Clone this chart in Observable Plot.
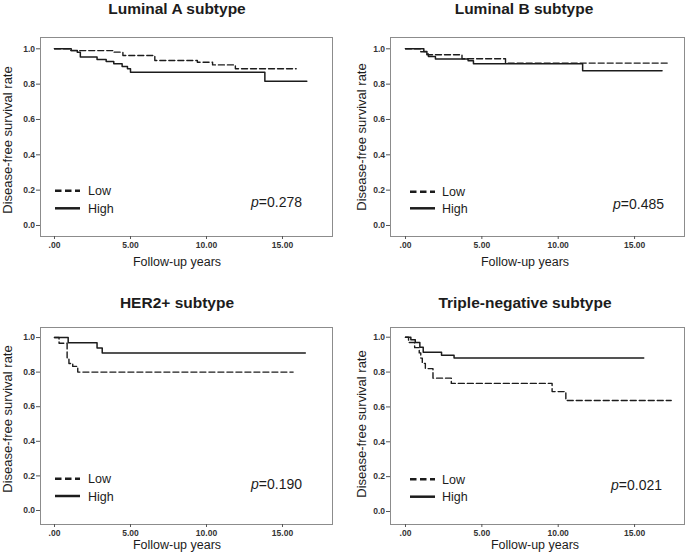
<!DOCTYPE html>
<html><head><meta charset="utf-8">
<script src="https://cdn.jsdelivr.net/npm/d3@7"></script>
<script src="https://cdn.jsdelivr.net/npm/@observablehq/plot@0.6"></script>
<style>
body{margin:0;background:#fff;}
#wrap{position:relative;width:685px;height:553px;overflow:hidden;font-family:"Liberation Sans",Arial,sans-serif;}
.panel{position:absolute;}
.panel svg{overflow:visible;}
</style></head><body><div id="wrap"></div>
<script>
// ---- data ----
const xTickValues = [0, 5, 10, 15];
const xTickLabels = [".00", "5.00", "10.00", "15.00"];
const yTickValues = [0, 0.2, 0.4, 0.6, 0.8, 1.0];
const yTickLabels = ["0.0", "0.2", "0.4", "0.6", "0.8", "1.0"];
const groups = ["Low", "High"];
const titles = ["Luminal A subtype", "Luminal B subtype", "HER2+ subtype", "Triple-negative subtype"];
const pValues = ["0.278", "0.485", "0.190", "0.021"];
const xAxisTitle = "Follow-up years";
const yAxisTitle = "Disease-free survival rate";

const lumA_low_t  = [0, 1.0, 3.9, 4.5, 6.6, 9.4, 10.4, 11.9, 15.9];
const lumA_low_s  = [1, 0.99, 0.981, 0.962, 0.934, 0.924, 0.909, 0.887, 0.887];
const lumA_high_t = [0, 1.1, 1.5, 1.7, 2.8, 3.4, 3.9, 4.45, 4.8, 5.0, 13.84, 16.6];
const lumA_high_s = [1, 0.99, 0.98, 0.953, 0.94, 0.928, 0.915, 0.90, 0.887, 0.868, 0.817, 0.817];

const lumB_low_t  = [0, 1.0, 1.4, 3.7, 6.55, 17.2];
const lumB_low_s  = [1, 0.983, 0.966, 0.944, 0.919, 0.919];
const lumB_high_t = [0, 1.2, 1.4, 1.5, 1.96, 4.1, 4.45, 11.6, 16.8];
const lumB_high_s = [1, 0.985, 0.971, 0.956, 0.943, 0.932, 0.915, 0.876, 0.876];

const her2_low_t  = [0, 0.3, 0.83, 0.95, 1.2, 1.53, 15.7];
const her2_low_s  = [1, 0.967, 0.883, 0.85, 0.833, 0.80, 0.80];
const her2_high_t = [0, 0.9, 2.8, 3.14, 16.5];
const her2_high_s = [1, 0.97, 0.94, 0.91, 0.91];

const tn_low_t  = [0, 0.2, 0.6, 0.9, 1.0, 1.1, 1.3, 1.8, 3.0, 9.6, 10.5, 17.4];
const tn_low_s  = [1, 0.97, 0.94, 0.91, 0.88, 0.85, 0.82, 0.765, 0.735, 0.688, 0.637, 0.637];
const tn_high_t = [0, 0.35, 0.64, 0.94, 1.16, 2.36, 3.18, 15.6];
const tn_high_s = [1, 0.985, 0.97, 0.943, 0.913, 0.897, 0.88, 0.88];

const series = [
  [[lumA_low_t, lumA_low_s], [lumA_high_t, lumA_high_s]],
  [[lumB_low_t, lumB_low_s], [lumB_high_t, lumB_high_s]],
  [[her2_low_t, her2_low_s], [her2_high_t, her2_high_s]],
  [[tn_low_t, tn_low_s], [tn_high_t, tn_high_s]]
];

// ---- layout ----
const layout = [
  {left:0, top:0, w:342, h:276, ml:40, mr:10, mt:37, mb:40, xd:[-0.921, 18.29], yd:[-0.0623, 1.064],
   title:[177,14], xl:[177,266], yl:[12,140], leg:[55,80,88,190.7,208.3], p:[302,206.5]},
  {left:342, top:0, w:343, h:276, ml:48, mr:1, mt:37, mb:40, xd:[-0.982, 18.27], yd:[-0.0623, 1.064],
   title:[182,14], xl:[183,266], yl:[24,137], leg:[68,93,100,191.7,208.3], p:[322,208.5]},
  {left:0, top:276, w:342, h:277, ml:40, mr:10, mt:51, mb:29, xd:[-0.921, 18.29], yd:[-0.081, 1.058],
   title:[177,32], xl:[177,273], yl:[12,143], leg:[55,80,88,202.7,220], p:[302,213]},
  {left:342, top:276, w:343, h:277, ml:48, mr:1, mt:51, mb:29, xd:[-0.982, 18.27], yd:[-0.0746, 1.0557],
   title:[183,32], xl:[193,273], yl:[24,148], leg:[68,93,100,203.3,220.7], p:[320,214]}
];

const FONT = '"Liberation Sans", Arial, sans-serif';
const INK = "#1c1c1c";
const wrap = document.getElementById("wrap");

layout.forEach((L, k) => {
  const rows = [];
  series[k].forEach(([ts, ss], g) => ts.forEach((t, i) => rows.push({t, s: ss[i], group: groups[g]})));
  const low = rows.filter(d => d.group === "Low");
  const high = rows.filter(d => d.group === "High");

  const svg = Plot.plot({
    width: L.w, height: L.h,
    marginLeft: L.ml, marginRight: L.mr, marginTop: L.mt, marginBottom: L.mb,
    x: {domain: L.xd},
    y: {domain: L.yd},
    style: {fontFamily: FONT, background: "transparent", color: "#222"},
    marks: [
      Plot.frame({stroke: "#8c8c8c", strokeWidth: 1}),
      Plot.axisY(yTickValues, {tickFormat: d => yTickLabels[yTickValues.indexOf(d)], tickSize: 4, tickPadding: 1.5, fontSize: 8.5, label: null, stroke: "#555"}),
      Plot.axisX(xTickValues, {tickFormat: d => xTickLabels[xTickValues.indexOf(d)], tickSize: 3, tickPadding: 2, fontSize: 8.5, label: null, stroke: "#555"}),
      Plot.line(low, {x: "t", y: "s", curve: "step-after", stroke: INK, strokeWidth: 1.4, strokeDasharray: "6,3"}),
      Plot.line(high, {x: "t", y: "s", curve: "step-after", stroke: INK, strokeWidth: 1.5})
    ]
  });

  const s = d3.select(svg);
  s.selectAll("g[aria-label='y-axis tick label'] text, g[aria-label='x-axis tick label'] text").attr("font-weight", "bold").attr("fill", "#333");
  const ann = s.append("g").attr("font-family", FONT).attr("fill", INK).attr("text-anchor", "start");
  ann.append("text").attr("x", L.title[0]).attr("y", L.title[1]).attr("text-anchor", "middle")
     .attr("font-size", 15.5).attr("font-weight", "bold").text(titles[k]);
  ann.append("text").attr("x", L.xl[0]).attr("y", L.xl[1]).attr("text-anchor", "middle")
     .attr("font-size", 12.5).text(xAxisTitle);
  ann.append("text").attr("transform", `translate(${L.yl[0]},${L.yl[1]}) rotate(-90)`).attr("text-anchor", "middle")
     .attr("font-size", 13).text(yAxisTitle);
  // legend
  const [x1, x2, tx, yLow, yHigh] = L.leg;
  ann.append("line").attr("x1", x1).attr("x2", x2).attr("y1", yLow).attr("y2", yLow)
     .attr("stroke", INK).attr("stroke-width", 2.5).attr("stroke-dasharray", "6.5,3.5");
  ann.append("line").attr("x1", x1).attr("x2", x2).attr("y1", yHigh).attr("y2", yHigh)
     .attr("stroke", INK).attr("stroke-width", 2.5);
  ann.append("text").attr("x", tx).attr("y", yLow + 4.5).attr("text-anchor", "start").attr("font-size", 12.5).text(groups[0]);
  ann.append("text").attr("x", tx).attr("y", yHigh + 4.5).attr("text-anchor", "start").attr("font-size", 12.5).text(groups[1]);
  // p-value
  const pt = ann.append("text").attr("x", L.p[0]).attr("y", L.p[1]).attr("text-anchor", "end").attr("font-size", 14);
  pt.append("tspan").attr("font-style", "italic").text("p");
  pt.append("tspan").text("=" + pValues[k]);

  const div = document.createElement("div");
  div.className = "panel";
  div.style.left = L.left + "px";
  div.style.top = L.top + "px";
  div.appendChild(svg);
  wrap.appendChild(div);
});
</script>
</body></html>
